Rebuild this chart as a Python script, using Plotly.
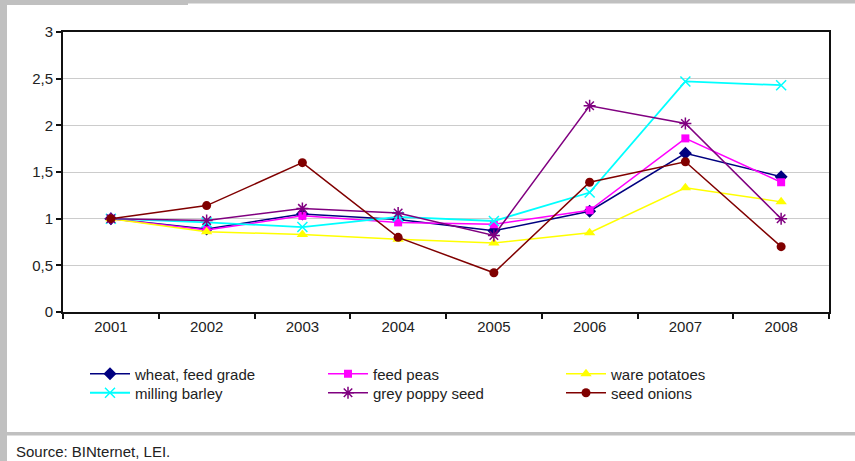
import plotly.graph_objects as go

years = ["2001", "2002", "2003", "2004", "2005", "2006", "2007", "2008"]

wheat_feed_grade = [1.00, 0.89, 1.05, 0.99, 0.87, 1.08, 1.70, 1.45]
feed_peas = [1.00, 0.88, 1.03, 0.96, 0.94, 1.09, 1.86, 1.39]
ware_potatoes = [1.00, 0.86, 0.83, 0.78, 0.74, 0.85, 1.33, 1.18]
milling_barley = [1.00, 0.96, 0.91, 1.02, 0.975, 1.28, 2.47, 2.43]
grey_poppy_seed = [1.00, 0.98, 1.11, 1.06, 0.82, 2.21, 2.02, 1.00]
seed_onions = [1.00, 1.14, 1.60, 0.80, 0.42, 1.39, 1.61, 0.70]

y_tick_vals = [0, 0.5, 1, 1.5, 2, 2.5, 3]
y_tick_text = ["0", "0,5", "1", "1,5", "2", "2,5", "3"]

series = [
    ("wheat, feed grade", wheat_feed_grade, "#000080", "diamond", 10, 1.5, "legend"),
    ("feed peas", feed_peas, "#FF00FF", "square", 8, 1.5, "legend"),
    ("ware potatoes", ware_potatoes, "#FFFF00", "triangle-up", 10, 1.5, "legend"),
    ("milling barley", milling_barley, "#00FFFF", "x-thin-open", 10, 1.8, "legend2"),
    ("grey poppy seed", grey_poppy_seed, "#800080", "asterisk-open", 10, 1.5, "legend2"),
    ("seed onions", seed_onions, "#800000", "circle", 9, 1.5, "legend2"),
]

W, H = 855, 461
L, R, T, B = 63, 829, 32, 312


def px2x(px):
    return (px - L) / (R - L)


def px2y(py):
    return (B - py) / (B - T)


fig = go.Figure()
for name, vals, color, sym, size, lw, leg in series:
    open_sym = sym.endswith("open")
    fig.add_trace(go.Scatter(
        x=years, y=vals, name=name, mode="lines+markers", legend=leg,
        line=dict(color=color, width=lw),
        marker=dict(symbol=sym, size=size, color=color,
                    line=dict(color=color, width=1.5 if open_sym else 0)),
    ))

FONT = "Liberation Sans"
TXT = "#222222"
gray = "#c0c0c0"

shapes = [
    dict(type="rect", xref="paper", yref="paper", x0=px2x(0), x1=px2x(7),
         y0=px2y(0), y1=px2y(H), fillcolor=gray, line=dict(width=0), layer="below"),
    dict(type="rect", xref="paper", yref="paper", x0=px2x(0), x1=px2x(188),
         y0=px2y(0), y1=px2y(5), fillcolor=gray, line=dict(width=0), layer="below"),
    dict(type="rect", xref="paper", yref="paper", x0=px2x(188), x1=px2x(W),
         y0=px2y(0), y1=px2y(3.5), fillcolor=gray, line=dict(width=0), layer="below"),
    dict(type="rect", xref="paper", yref="paper", x0=px2x(0), x1=px2x(W),
         y0=px2y(432), y1=px2y(435.5), fillcolor=gray, line=dict(width=0), layer="below"),
]

legend_common = dict(
    orientation="h", xanchor="left", yanchor="middle",
    entrywidth=183, entrywidthmode="pixels",
    font=dict(family=FONT, size=15, color=TXT),
    itemwidth=40, tracegroupgap=0, bgcolor="rgba(0,0,0,0)",
)

fig.update_layout(
    width=W, height=H,
    margin=dict(l=L, r=W - R, t=T, b=H - B, pad=0),
    paper_bgcolor="white", plot_bgcolor="white",
    font=dict(family=FONT, size=15, color=TXT),
    showlegend=True,
    legend=dict(x=px2x(85), y=px2y(374), **legend_common),
    legend2=dict(x=px2x(85), y=px2y(393), **legend_common),
    shapes=shapes,
    annotations=[dict(
        text="Source: BINternet, LEI.", xref="paper", yref="paper",
        x=px2x(14), y=px2y(451), xanchor="left", yanchor="middle",
        showarrow=False, font=dict(family=FONT, size=15, color=TXT),
    )],
)

fig.update_xaxes(
    type="category", range=[-0.5, 7.5],
    showline=True, linecolor="#111111", linewidth=2, mirror=True,
    ticks="outside", tickson="boundaries", ticklen=5, tickwidth=1.5, tickcolor="#111111",
    showgrid=False, zeroline=False,
    tickfont=dict(family=FONT, size=15, color=TXT),
)
fig.update_yaxes(
    range=[0, 3], tickvals=y_tick_vals, ticktext=y_tick_text,
    showline=True, linecolor="#111111", linewidth=2, mirror=True,
    ticks="outside", ticklen=5, tickwidth=1.5, tickcolor="#111111",
    showgrid=True, gridcolor="#cccccc", gridwidth=1, zeroline=False,
    tickfont=dict(family=FONT, size=15, color=TXT),
)

fig.write_html(
    "out.html",
    config={"displayModeBar": False},
    post_script="document.body.style.margin='0';document.body.style.padding='0';",
)
